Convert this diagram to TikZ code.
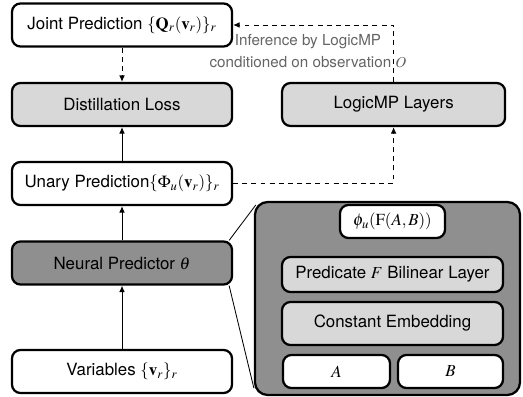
\documentclass[tikz,border=0pt]{standalone}
\usepackage{mathptmx}
\usepackage[no-math]{fontspec}
\setmainfont{TeX Gyre Heros}
\usepackage{tikz}
\usetikzlibrary{arrows.meta,positioning,calc}
\definecolor{darkgrey}{RGB}{143,143,143}
\definecolor{lightgrey}{RGB}{216,216,216}
\definecolor{notegrey}{RGB}{100,100,100}

\begin{document}
\begin{tikzpicture}[
    box/.style={draw, line width=1.6pt, rounded corners=6pt, minimum width=5.5cm, minimum height=1.075cm, align=center, font=\fontsize{12}{14}\selectfont, inner sep=0pt},
    arrow/.style={-{Latex[length=1.6mm,width=1.4mm]}, line width=0.7pt},
    dashedarrow/.style={-{Latex[length=1.6mm,width=1.4mm]}, line width=0.7pt, dash pattern=on 3.5pt off 3pt}
]
\useasboundingbox (0,0) rectangle (13.075,9.9);

% left column
\node[box, fill=white] (joint) at (3.05,9.275) {Joint Prediction $\{\mathbf{Q}_r(\mathbf{v}_r)\}_r$};
\node[box, fill=lightgrey] (distill) at (3.05,7.2875) {Distillation Loss};
\node[box, fill=white] (unary) at (3.05,5.3125) {Unary Prediction$\{\Phi_u(\mathbf{v}_r)\}_r$};
\node[box, fill=darkgrey] (neural) at (3.05,3.325) {Neural Predictor $\theta$};
\node[box, fill=white] (vars) at (3.05,0.6125) {Variables $\{\mathbf{v}_r\}_r$};

\node[box, fill=lightgrey, minimum width=5.575cm] (logicmp) at (9.84,7.2875) {LogicMP Layers};

% zoomed predictor
\node[box, fill=darkgrey, rounded corners=9pt, minimum width=6.625cm, minimum height=4.825cm] (detail) at (9.6875,2.4375) {};
\node[box, fill=white, minimum width=2.625cm, minimum height=0.825cm] (phi) at (9.8125,4.3625) {$\phi_u(\mathrm{F}(A,B))$};
\node[box, fill=lightgrey, minimum width=5.525cm, minimum height=0.875cm] (bilinear) at (9.8125,3.0375) {Predicate $F$ Bilinear Layer};
\node[box, fill=lightgrey, minimum width=5.525cm] (embed) at (9.8125,1.8125) {Constant Embedding};
\node[box, fill=white, minimum width=2.675cm, minimum height=0.825cm] (consta) at (8.4125,0.6125) {$A$};
\node[box, fill=white, minimum width=2.625cm, minimum height=0.825cm] (constb) at (11.2625,0.6125) {$B$};

\draw[line width=0.6pt] ($(neural.north east)+(-0.1,0)$) -- ($(detail.north west)+(0.05,-0.1)$);
\draw[line width=0.6pt] ($(neural.south east)+(-0.1,0)$) -- ($(detail.south west)+(0,0.2)$);

\draw[arrow] (vars) -- (neural);
\draw[arrow] (neural) -- (unary);
\draw[arrow] (unary) -- (distill);
\draw[dashedarrow] (joint) -- (distill);
\draw[dashedarrow] (unary) -| (logicmp);
\draw[dashedarrow] (logicmp) |- (joint);

\node[text=notegrey, align=center, font=\fontsize{10.8}{15.6}\selectfont] (note) at (7.7,8.625) {Inference by LogicMP\\conditioned on observation $O$};
\end{tikzpicture}
\end{document}
